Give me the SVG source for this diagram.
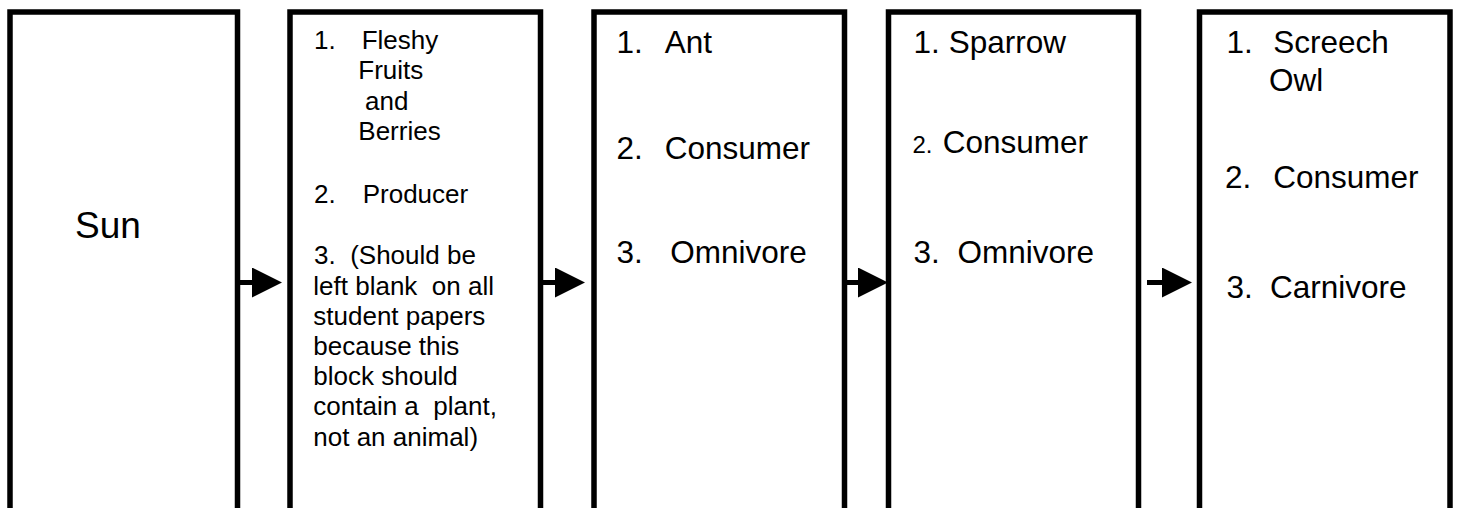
<svg xmlns="http://www.w3.org/2000/svg" width="1457" height="508" viewBox="0 0 1457 508">
<defs>
<style>
.box{fill:#fff;stroke:#000;stroke-width:5.5}
.t{font-family:"Liberation Sans",Arial,sans-serif;fill:#000}
.s26{font-size:26px}
.s31{font-size:31.5px}
.s24{font-size:24px}
.s37{font-size:37px}
.shaft{stroke:#000;stroke-width:5;fill:none}
</style>
<marker id="head" markerUnits="userSpaceOnUse" markerWidth="32" markerHeight="32" refX="0" refY="15" orient="auto" viewBox="0 0 32 32">
<path d="M0,0 L30,15 L0,30 Z" fill="#000"/>
</marker>
</defs>
<rect width="1457" height="508" fill="#fff"/>
<g id="connectors">
<line class="shaft" x1="240" y1="282.5" x2="252" y2="282.5" marker-end="url(#head)"/>
<line class="shaft" x1="543" y1="282.5" x2="555" y2="282.5" marker-end="url(#head)"/>
<line class="shaft" x1="847" y1="282.5" x2="858" y2="282.5" marker-end="url(#head)"/>
<line class="shaft" x1="1147" y1="282.5" x2="1162" y2="282.5" marker-end="url(#head)"/>
</g>
<g id="node-sun">
<rect class="box" x="10" y="12" width="227.5" height="520"/>
<text class="t s37" x="75" y="238">Sun</text>
</g>
<g id="node-producer">
<rect class="box" x="290" y="12" width="250.5" height="520"/>
<text class="t s26" x="314" y="49.3">1.</text>
<text class="t s26" x="361.7" y="49.3">Fleshy</text>
<text class="t s26" x="358.3" y="79.3">Fruits</text>
<text class="t s26" x="365" y="110">and</text>
<text class="t s26" x="358.3" y="140">Berries</text>
<text class="t s26" x="314" y="203.3">2.</text>
<text class="t s26" x="362.7" y="203.3">Producer</text>
<text class="t s26" x="314" y="264.3" xml:space="preserve">3.  (Should be</text>
<text class="t s26" x="313.3" y="295" xml:space="preserve">left blank  on all</text>
<text class="t s26" x="313.3" y="325">student papers</text>
<text class="t s26" x="313.3" y="355">because this</text>
<text class="t s26" x="313.3" y="385">block should</text>
<text class="t s26" x="313.3" y="415" xml:space="preserve">contain a  plant,</text>
<text class="t s26" x="313.3" y="446">not an animal)</text>
</g>
<g id="node-ant">
<rect class="box" x="594" y="12" width="250.5" height="520"/>
<text class="t s31" x="616.4" y="53.3">1.</text>
<text class="t s31" x="664.7" y="53.3">Ant</text>
<text class="t s31" x="616.4" y="159.3">2.</text>
<text class="t s31" x="664.7" y="159.3">Consumer</text>
<text class="t s31" x="616.4" y="263.3">3.</text>
<text class="t s31" x="670.2" y="263.3">Omnivore</text>
</g>
<g id="node-sparrow">
<rect class="box" x="888.5" y="12" width="250" height="520"/>
<text class="t s31" x="913.6" y="53.3">1.</text>
<text class="t s31" x="948.7" y="53.3">Sparrow</text>
<text class="t s24" x="912.5" y="152.7">2.</text>
<text class="t s31" x="942.7" y="152.7">Consumer</text>
<text class="t s31" x="913.6" y="263.3">3.</text>
<text class="t s31" x="957.5" y="263.3">Omnivore</text>
</g>
<g id="node-owl">
<rect class="box" x="1199.5" y="12" width="250.5" height="520"/>
<text class="t s31" x="1226.6" y="53.3">1.</text>
<text class="t s31" x="1273.2" y="53.3">Screech</text>
<text class="t s31" x="1268.9" y="90.7">Owl</text>
<text class="t s31" x="1225" y="188.3">2.</text>
<text class="t s31" x="1273.2" y="188.3">Consumer</text>
<text class="t s31" x="1226.6" y="298.3">3.</text>
<text class="t s31" x="1270" y="298.3">Carnivore</text>
</g>
</svg>
